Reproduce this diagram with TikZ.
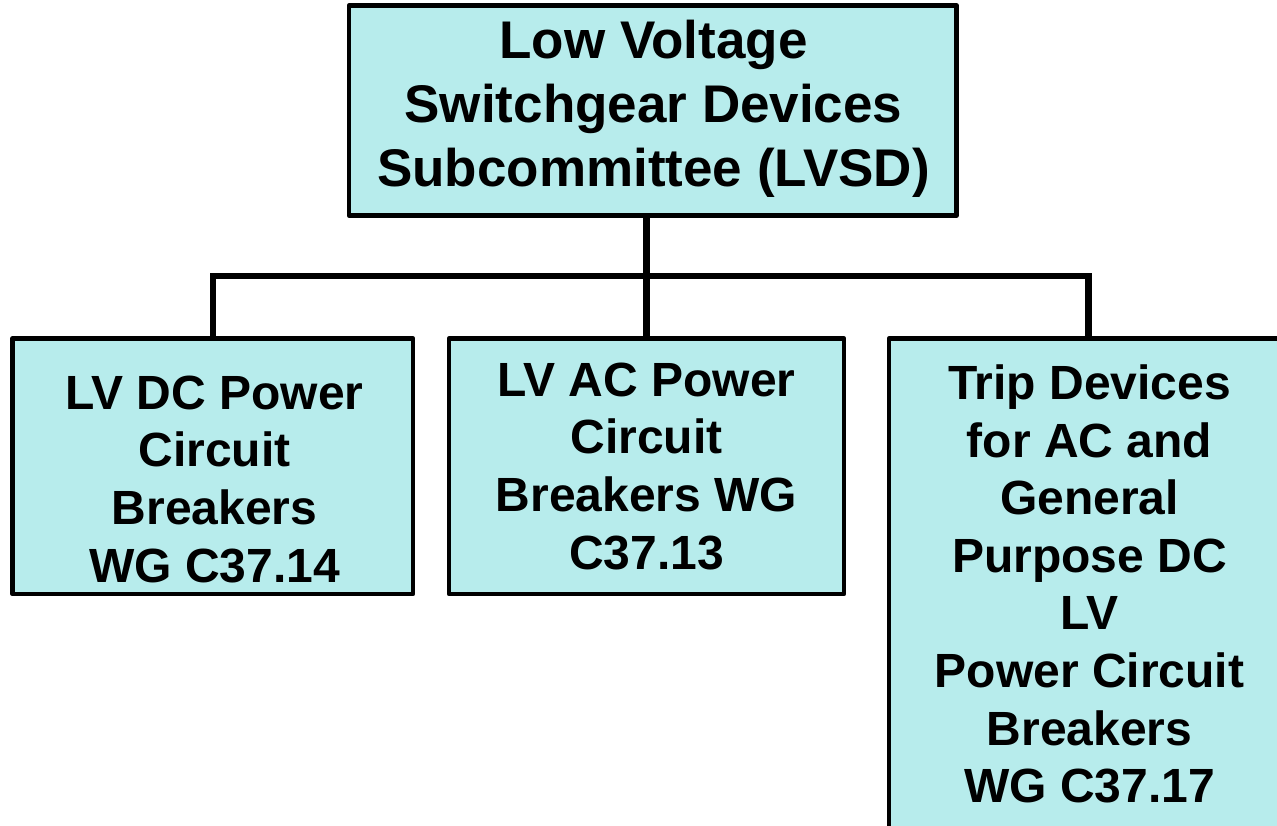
\documentclass[tikz,border=0pt]{standalone}
\usepackage{fontspec}
\setmainfont{Liberation Sans}
\definecolor{boxfill}{RGB}{183,236,236}
\tikzset{
  orgbox/.style={draw=black, fill=boxfill, line width=4.5pt, inner sep=0pt, line join=round},
  bigtxt/.style={anchor=north, inner sep=0pt, align=center, font=\fontsize{53}{64}\selectfont\bfseries},
  smalltxt/.style={anchor=north, inner sep=0pt, align=center, font=\fontsize{48}{57.6}\selectfont\bfseries},
  conn/.style={draw=black, line width=6.5pt}
}
\begin{document}
\begin{tikzpicture}[x=1pt,y=-1pt]
\useasboundingbox (0,0) rectangle (1277,825);
\clip (0,0) rectangle (1277,825);
% boxes
\node[orgbox, minimum width=607.5pt, minimum height=210pt] (top) at (652.75,110.5) {};
\node[orgbox, minimum width=400.5pt, minimum height=255.5pt] (dc) at (212.75,466.25) {};
\node[orgbox, minimum width=395pt, minimum height=255.5pt] (ac) at (646.5,466.25) {};
\node[orgbox, minimum width=399pt, minimum height=561.5pt] (trip) at (1088.5,619.25) {};
% connectors
\draw[conn] (ac.north |- top.south) -- (ac.north);
\draw[conn] (dc.north) -- ++(0,-60.5) -| (trip.north);
% texts
\node[bigtxt] (toptxt) at (653.5,20) {Low Voltage\\Switchgear Devices\\Subcommittee (LVSD)};
\node[smalltxt] (dctxt) at (214.5,375.5) {LV DC Power\\Circuit\\Breakers\\WG C37.14};
\node[smalltxt] (actxt) at (646.5,362.5) {LV AC Power\\Circuit\\Breakers WG\\C37.13};
\node[smalltxt] (triptxt) at (1089.5,364.5) {Trip Devices\\for AC and\\General\\Purpose DC\\LV\\Power Circuit\\Breakers\\WG C37.17};
\end{tikzpicture}
\end{document}
